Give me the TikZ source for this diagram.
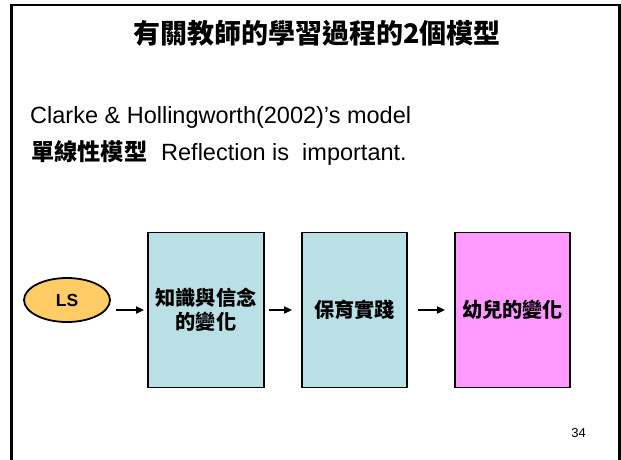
\documentclass[tikz,border=0pt]{standalone}
\usepackage{fontspec}
\setmainfont{Liberation Sans}
\newfontfamily\cjk{Noto Sans CJK TC}
\usetikzlibrary{arrows.meta}
\usetikzlibrary{shapes.geometric}

\definecolor{stageteal}{RGB}{185,224,228}
\definecolor{lspeach}{RGB}{255,204,102}
\definecolor{kidpink}{RGB}{255,153,255}

\begin{document}
\begin{tikzpicture}[x=1pt, y=-1pt, >={Triangle[length=8pt, width=7pt]},
    stagebox/.style={draw, line width=1.8pt, minimum height=155pt, inner sep=0pt,
        align=center, font=\cjk\bfseries\fontsize{20.2}{24}\selectfont},
    flow/.style={->, line width=1.8pt}]

    \useasboundingbox (0,0) rectangle (621,459);

    % Slide frame (open at the bottom)
    \draw[line width=2.4pt] (11.5,470) -- (11.5,5) -- (619.5,5) -- (619.5,470);

    % Title
    \node[font=\cjk\bfseries\fontsize{27}{30}\selectfont] (title) at (317,33)
        {有關教師的學習過程的2個模型};

    % Text lines
    \node[anchor=base west, inner sep=0pt, font=\fontsize{23.5}{28}\selectfont] (model) at (30,123)
        {Clarke \& Hollingworth(2002)'s model};
    \node[anchor=base west, inner sep=0pt, font=\fontsize{23.5}{28}\selectfont] (linear) at (31,160)
        {{\cjk\bfseries\fontsize{23.2}{26}\selectfont 單線性模型}\hspace{14pt}Reflection is\ \ important.};

    % LS ellipse
    \node[ellipse, draw, line width=1.8pt, fill=lspeach, minimum width=86pt, minimum height=44pt,
        font=\bfseries\fontsize{17.5}{20}\selectfont] (ls) at (67,300) {LS};

    % Stage boxes
    \node[stagebox, fill=stageteal, minimum width=116pt] (know) at (206,310) {知識與信念\\的變化};
    \node[stagebox, fill=stageteal, minimum width=105pt] (prac) at (354.5,310) {保育實踐};
    \node[stagebox, fill=kidpink, minimum width=115pt] (kids) at (512.5,310) {幼兒的變化};

    % Arrows
    \draw[flow, shorten <=5pt, shorten >=3pt] (ls.east |- know.west) -- (know.west);
    \draw[flow, shorten <=4pt, shorten >=9pt] (know.east) -- (prac.west);
    \draw[flow, shorten <=10pt, shorten >=9pt] (prac.east) -- (kids.west);

    % Page number
    \node[font=\fontsize{13}{15}\selectfont] (pagenum) at (578.5,433) {34};

\end{tikzpicture}
\end{document}
